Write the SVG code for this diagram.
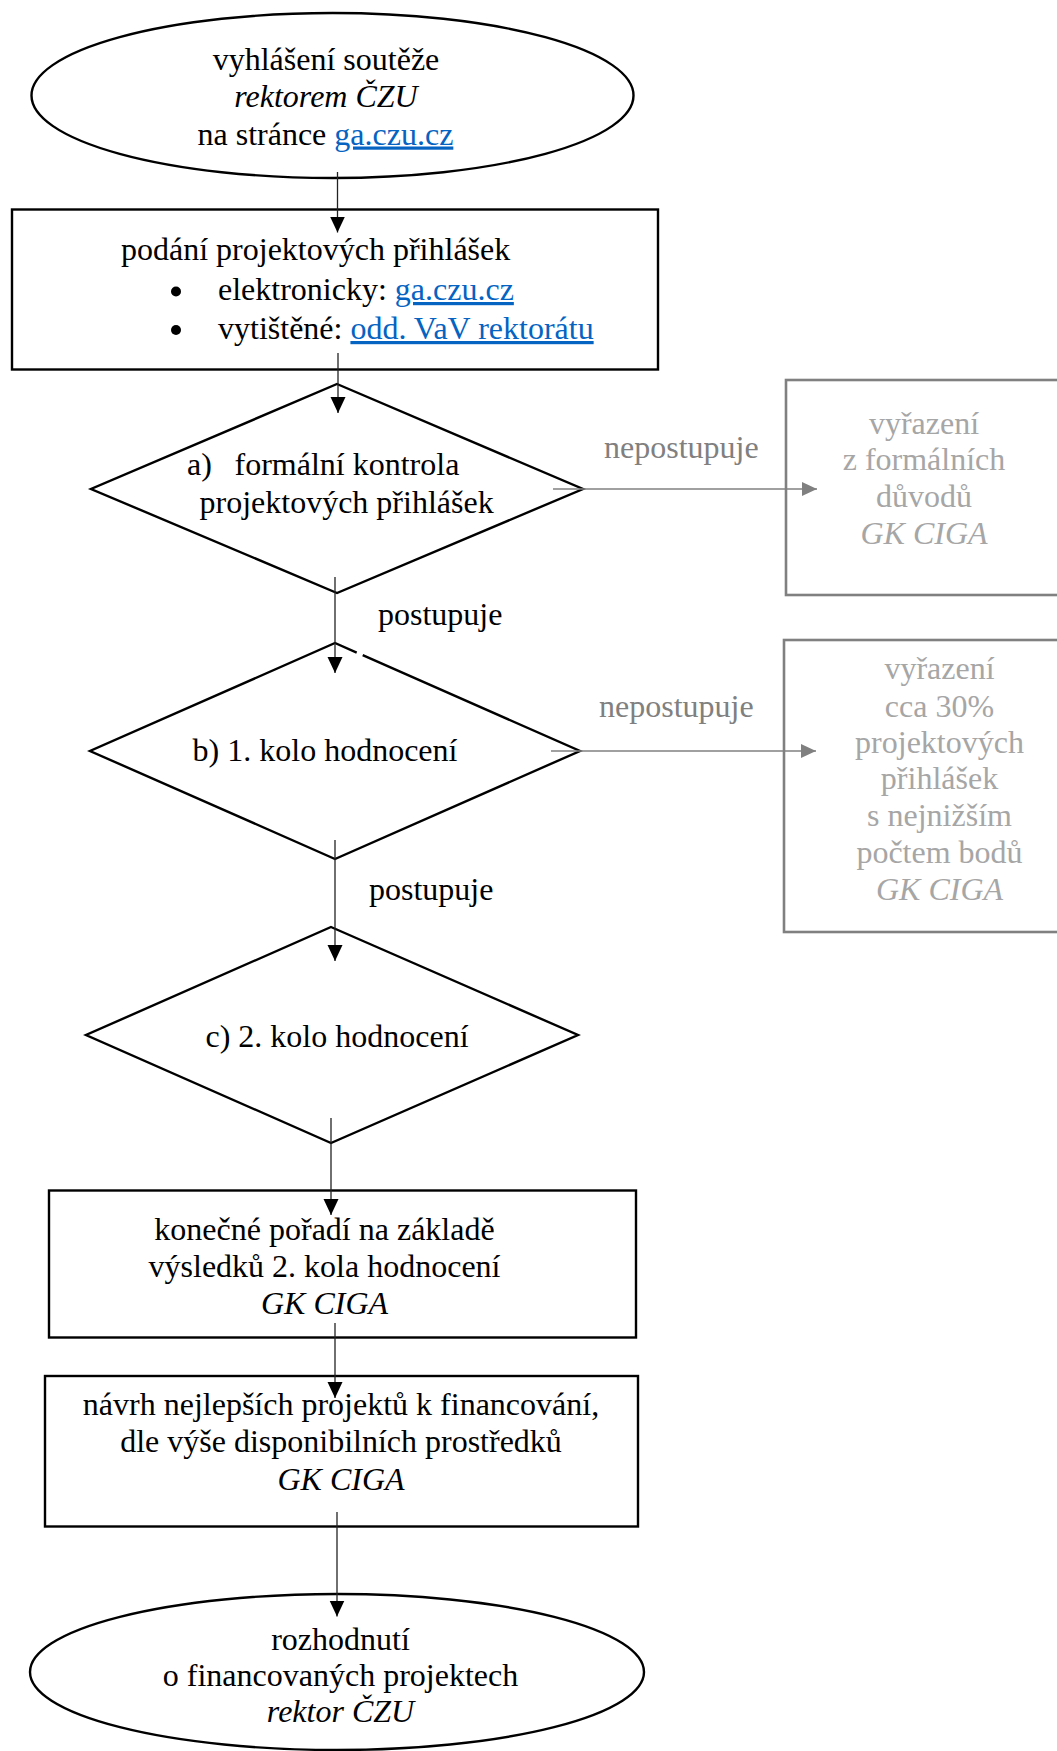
<svg xmlns="http://www.w3.org/2000/svg" width="1057" height="1751" viewBox="0 0 1057 1751">
<style>
text{font-family:"Liberation Serif","Times New Roman",serif;font-size:32px;fill:#000}
.c{text-anchor:middle}
.i{font-style:italic}
.lnk{fill:#0563c1;text-decoration:underline}
.gl{fill:#808080}
.gt{fill:#a6a6a6}
.shape{fill:#fff;stroke:#000;stroke-width:2.4}
.gbox{fill:#fff;stroke:#808080;stroke-width:2.6}
.con{stroke:#222;stroke-width:1.3;fill:none}
.gcon{stroke:#808080;stroke-width:1.4;fill:none}
</style>
<defs>
<marker id="ah" markerUnits="userSpaceOnUse" markerWidth="16" markerHeight="16" refX="16" refY="7.5" orient="auto">
<path d="M0,0 L16,7.5 L0,15 z" fill="#000"/>
</marker>
<marker id="gah" markerUnits="userSpaceOnUse" markerWidth="16" markerHeight="15" refX="15" refY="7" orient="auto">
<path d="M0,0 L15,7 L0,14 z" fill="#808080"/>
</marker>
</defs>

<g id="start">
<ellipse class="shape" cx="332.5" cy="95.5" rx="301" ry="82.5"/>
<text class="c" x="326" y="70">vyhlášení soutěže</text>
<text class="c i" x="326" y="107">rektorem ČZU</text>
<text x="197.5" y="144.5">na stránce <tspan class="lnk">ga.czu.cz</tspan></text>
</g>

<g id="submission">
<rect class="shape" x="12" y="209.5" width="646" height="160"/>
<text x="121" y="260">podání projektových přihlášek</text>
<circle cx="176" cy="291.5" r="5"/>
<text x="218" y="300">elektronicky: <tspan class="lnk">ga.czu.cz</tspan></text>
<circle cx="176" cy="330" r="5"/>
<text x="218" y="339">vytištěné: <tspan class="lnk">odd. VaV rektorátu</tspan></text>
</g>

<g id="formal">
<polygon class="shape" points="337,384 583,489 337,593 91,489"/>
<text x="187" y="474.5">a)</text>
<text x="234.5" y="474.5">formální kontrola</text>
<text x="199.5" y="512.5">projektových přihlášek</text>
</g>

<g id="excluded-formal">
<rect class="gbox" x="786" y="380" width="290" height="215"/>
<text class="c gt" x="924" y="433.5">vyřazení</text>
<text class="c gt" x="924" y="470">z formálních</text>
<text class="c gt" x="924" y="507">důvodů</text>
<text class="c gt i" x="924" y="543.5">GK CIGA</text>
</g>

<g id="round1">
<path class="shape" d="M362.7,655.2 L580,751 L335,859 L90,751 L335,643 L356.7,652.6"/>
<text class="c" x="325" y="761">b) 1. kolo hodnocení</text>
</g>

<g id="excluded-round1">
<rect class="gbox" x="784" y="640" width="320" height="292"/>
<text class="c gt" x="939.5" y="679">vyřazení</text>
<text class="c gt" x="939.5" y="716.5">cca 30%</text>
<text class="c gt" x="939.5" y="753">projektových</text>
<text class="c gt" x="939.5" y="789">přihlášek</text>
<text class="c gt" x="939.5" y="826">s nejnižším</text>
<text class="c gt" x="939.5" y="862.5">počtem bodů</text>
<text class="c gt i" x="939.5" y="899.5">GK CIGA</text>
</g>

<g id="round2">
<polygon class="shape" points="331,927 578,1035 331,1143 86,1035"/>
<text class="c" x="337" y="1047">c) 2. kolo hodnocení</text>
</g>

<g id="ranking">
<rect class="shape" x="49" y="1190.5" width="587" height="147"/>
<text class="c" x="324.5" y="1240">konečné pořadí na základě</text>
<text class="c" x="324.5" y="1277">výsledků 2. kola hodnocení</text>
<text class="c i" x="324.5" y="1314">GK CIGA</text>
</g>

<g id="proposal">
<rect class="shape" x="45" y="1376" width="593" height="150.5"/>
<text class="c" x="341" y="1415">návrh nejlepších projektů k financování,</text>
<text class="c" x="341" y="1452">dle výše disponibilních prostředků</text>
<text class="c i" x="341" y="1489.5">GK CIGA</text>
</g>

<g id="decision">
<ellipse class="shape" cx="337" cy="1672" rx="307" ry="78"/>
<text class="c" x="340.5" y="1650">rozhodnutí</text>
<text class="c" x="340.5" y="1686">o financovaných projektech</text>
<text class="c i" x="340.5" y="1722">rektor ČZU</text>
</g>

<g id="connectors">
<line class="con" x1="337.5" y1="172" x2="337.5" y2="232.5" marker-end="url(#ah)"/>
<line class="con" x1="338" y1="353" x2="338" y2="413" marker-end="url(#ah)"/>
<line class="con" x1="335" y1="577" x2="335" y2="673" marker-end="url(#ah)"/>
<line class="con" x1="335" y1="840" x2="335" y2="961" marker-end="url(#ah)"/>
<line class="con" x1="331" y1="1118" x2="331" y2="1215" marker-end="url(#ah)"/>
<line class="con" x1="335" y1="1323" x2="335" y2="1398" marker-end="url(#ah)"/>
<line class="con" x1="337" y1="1512" x2="337" y2="1616.5" marker-end="url(#ah)"/>
<line class="gcon" x1="553" y1="489" x2="817" y2="489" marker-end="url(#gah)"/>
<line class="gcon" x1="551" y1="751" x2="816" y2="751" marker-end="url(#gah)"/>
<text class="gl" x="604" y="458">nepostupuje</text>
<text class="gl" x="599" y="717">nepostupuje</text>
<text x="378" y="625">postupuje</text>
<text x="369" y="900">postupuje</text>
</g>
</svg>
